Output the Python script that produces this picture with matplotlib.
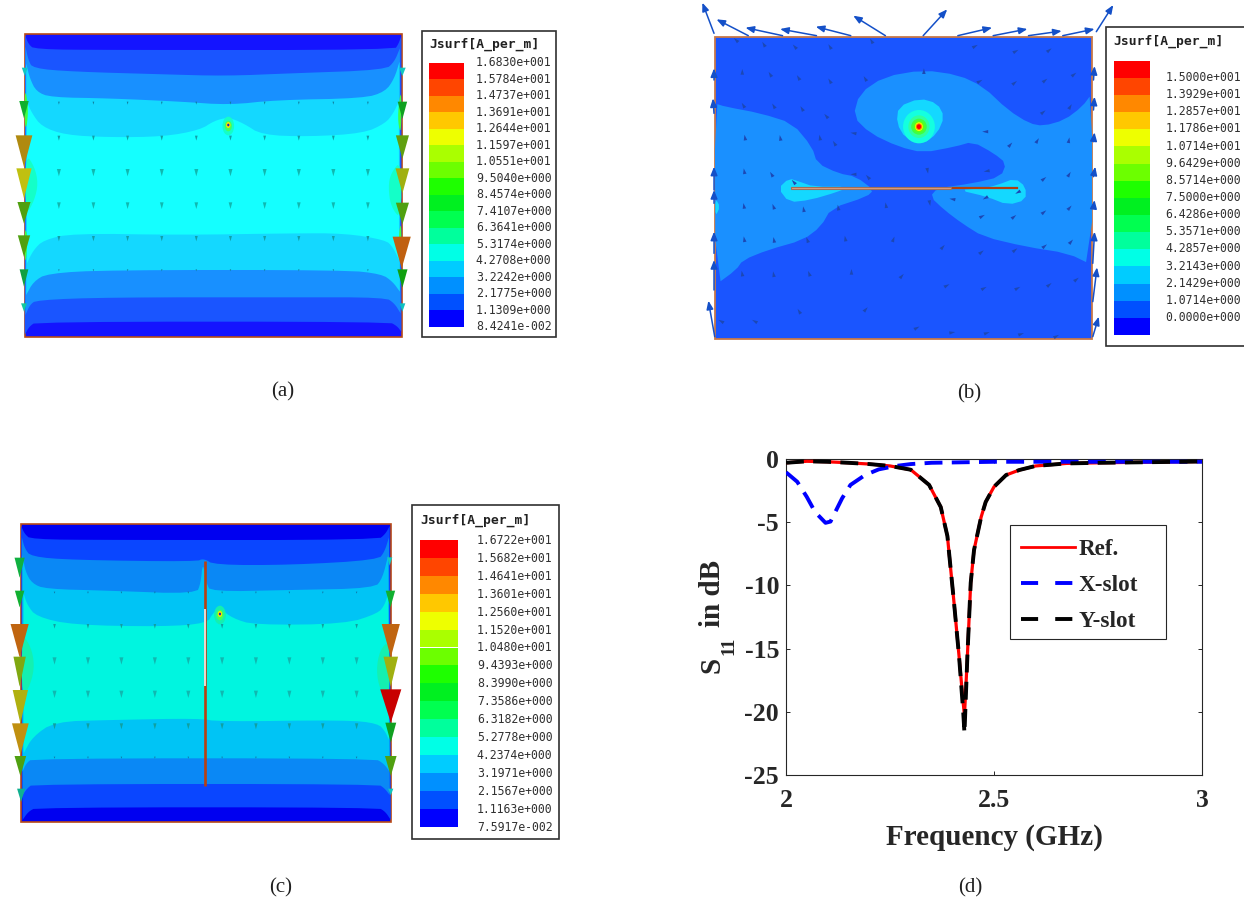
import matplotlib
matplotlib.use('Agg')
import matplotlib.pyplot as plt
from matplotlib.lines import Line2D
from matplotlib.patches import Ellipse, Polygon, Rectangle
import numpy as np

plt.rcParams['font.family'] = ['Liberation Serif', 'DejaVu Sans']

W, H = 1244, 905

# S11 curves, panel (d)
ref_freq = [2.0, 2.05, 2.1, 2.15, 2.2, 2.25, 2.3, 2.344, 2.372, 2.388, 2.404, 2.416, 2.426, 2.429,
            2.436, 2.444, 2.452, 2.469, 2.48, 2.5, 2.529, 2.561, 2.6, 2.674, 2.754, 3.0]
ref_s11 = [-0.3, -0.18, -0.22, -0.3, -0.4, -0.55, -0.85, -2.05, -3.8, -6.1, -11.4, -15.6, -19.3, -20.3,
           -15.6, -9.8, -7.2, -4.6, -3.4, -2.2, -1.27, -0.87, -0.55, -0.35, -0.3, -0.2]
y_s11 = [-0.3, -0.18, -0.22, -0.3, -0.4, -0.55, -0.85, -2.05, -3.8, -6.1, -11.4, -15.6, -20.0, -21.7,
         -15.6, -9.8, -7.2, -4.6, -3.4, -2.2, -1.27, -0.87, -0.55, -0.35, -0.3, -0.2]
x_freq = [2.0, 2.027, 2.05, 2.07, 2.095, 2.107, 2.135, 2.155, 2.19, 2.223, 2.264, 2.3, 2.35, 2.5, 3.0]
x_s11 = [-1.05, -1.8, -3.0, -4.2, -5.05, -4.95, -3.1, -2.05, -1.27, -0.82, -0.55, -0.4, -0.3, -0.22, -0.22]

# colour legend texts
labels_a = ['1.6830e+001', '1.5784e+001', '1.4737e+001', '1.3691e+001', '1.2644e+001', '1.1597e+001',
            '1.0551e+001', '9.5040e+000', '8.4574e+000', '7.4107e+000', '6.3641e+000', '5.3174e+000',
            '4.2708e+000', '3.2242e+000', '2.1775e+000', '1.1309e+000', '8.4241e-002']
labels_b = ['1.5000e+001', '1.3929e+001', '1.2857e+001', '1.1786e+001', '1.0714e+001', '9.6429e+000',
            '8.5714e+000', '7.5000e+000', '6.4286e+000', '5.3571e+000', '4.2857e+000', '3.2143e+000',
            '2.1429e+000', '1.0714e+000', '0.0000e+000']
labels_c = ['1.6722e+001', '1.5682e+001', '1.4641e+001', '1.3601e+001', '1.2560e+001', '1.1520e+001',
            '1.0480e+001', '9.4393e+000', '8.3990e+000', '7.3586e+000', '6.3182e+000', '5.2778e+000',
            '4.2374e+000', '3.1971e+000', '2.1567e+000', '1.1163e+000', '7.5917e-002']
ramp = ['#ff0000', '#ff4500', '#ff8800', '#ffc800', '#eeff00', '#aaff00', '#6cff00', '#1eff00',
        '#00f020', '#00ff50', '#00ff9c', '#00ffe6', '#00ccff', '#0090ff', '#0050ff', '#0000ff']

# panel (a) contour outlines: upper curve, then lower curve back
a_bands = [
    ('#1a55ff', [(69, 45), (78, 72), (95, 88), (300, 90), (1085, 90), (1096, 72), (1104, 48), (1104, 935), (1092, 918), (1070, 905), (100, 905), (80, 920), (68, 945)]),
    ('#1890ff', [(70, 80), (78, 120), (90, 145), (200, 155), (450, 163), (620, 168), (800, 160), (1060, 150), (1085, 125), (1100, 85),
                 (1102, 880), (1085, 850), (1060, 832), (800, 832), (300, 832), (100, 840), (82, 855), (70, 885)]),
    ('#14d8ff', [(72, 130), (82, 175), (100, 215), (140, 232), (300, 235), (500, 245), (630, 255), (760, 240), (1000, 235),
                 (1060, 215), (1085, 175), (1099, 125), (1100, 815), (1080, 785), (1050, 762), (950, 750), (300, 750), (130, 760), (92, 785), (72, 825)]),
    ('#14ffff', [(74, 245), (88, 280), (115, 320), (180, 345), (300, 352), (450, 350), (550, 330), (590, 302), (628, 292),
                 (670, 310), (720, 345), (850, 350), (1000, 340), (1060, 310), (1082, 280), (1097, 245), (1098, 720), (1080, 680), (1060, 660),
                 (950, 640), (800, 640), (500, 645), (200, 640), (120, 660), (92, 690), (74, 730)]),
]
a_glow = [
    ('#14ffc8', [(70, 400), (95, 440), (105, 490), (95, 540), (70, 590)]),
    ('#14ffc8', [(1104, 420), (1075, 460), (1068, 500), (1075, 560), (1104, 600)]),
    ('#40ff40', [(68, 200), (78, 260), (74, 320), (68, 320)]),
    ('#40ff40', [(1104, 200), (1094, 280), (1098, 330), (1104, 330)]),
    ('#40ff40', [(68, 620), (76, 650), (72, 720), (68, 720)]),
    ('#40ff40', [(1104, 600), (1096, 650), (1100, 720), (1104, 720)]),
]
a_left = [(68, 143, 25, 16, '#10c8c0'), (66, 243, 52, 26, '#10b030'), (66, 346, 95, 46, '#b08a10'),
          (66, 445, 90, 42, '#c0c010'), (66, 546, 65, 36, '#50a010'), (66, 646, 65, 34, '#50a010'),
          (66, 748, 52, 24, '#10a040'), (66, 850, 25, 16, '#10c8a0')]
a_right = [(1107, 143, 25, 18, '#10c8c0'), (1107, 245, 52, 26, '#10a020'), (1107, 346, 70, 36, '#60a010'),
           (1107, 445, 75, 38, '#a0b010'), (1107, 548, 65, 36, '#50a010'), (1105, 650, 95, 50, '#c06010'),
           (1107, 748, 55, 28, '#10a010'), (1107, 850, 25, 16, '#10c0c0')]
a_cols = [162, 257, 351, 445, 540, 634, 728, 822, 917, 1012]
a_rows = [(245, 9, '#1080a0'), (347, 15, '#10a0a8'), (447, 22, '#10b8b0'), (547, 20, '#10b8b0'),
          (648, 16, '#10a0a8'), (748, 6, '#1080a0')]

# panel (b) contour outlines
b_mid = [
    [(70, 310), (100, 320), (200, 340), (290, 370), (345, 440), (360, 490), (420, 520), (470, 530), (520, 570),
     (500, 590), (400, 625), (370, 680), (320, 720), (220, 750), (150, 780), (130, 810), (72, 855)],
    [(660, 210), (760, 225), (830, 260), (900, 330), (960, 370), (1000, 378), (1060, 360), (1110, 320), (1138, 280),
     (1138, 795), (1070, 760), (950, 740), (830, 710), (770, 670), (720, 630), (680, 590), (700, 565), (800, 550),
     (880, 530), (895, 490), (860, 460), (800, 425), (750, 440), (660, 458), (590, 440), (510, 400), (462, 350),
     (480, 280), (550, 230)],
]
b_light = [
    [(250, 565), (280, 535), (310, 545), (350, 560), (450, 560), (420, 575), (340, 600), (280, 607)],
    [(760, 570), (830, 565), (870, 555), (920, 535), (950, 560), (950, 600), (900, 615), (840, 590)],
    [(72, 595), (85, 620), (72, 650)],
    [(650, 295), (700, 310), (720, 350), (700, 400), (660, 432), (610, 415), (585, 370), (590, 320)],
]
b_rings = [(45, 50, '#14ffe0'), (30, 34, '#30ffa0'), (22, 24, '#40ff40'), (15, 17, '#60ff10'),
           (11, 13, '#ffff00'), (9, 10, '#ff8000'), (6, 7, '#ff0000')]
b_long = [(68, 100, 35, 8), (165, 107, 75, 58), (262, 107, 157, 83), (358, 107, 255, 87), (455, 107, 356, 80),
          (553, 107, 462, 47), (660, 107, 728, 28), (758, 107, 855, 83), (858, 107, 955, 87), (958, 107, 1052, 93),
          (1055, 107, 1145, 87), (1150, 95, 1198, 15), (70, 1010, 52, 902), (1140, 1010, 1157, 950),
          (1140, 905, 1152, 802), (1140, 790, 1145, 695), (68, 870, 68, 780), (68, 760, 68, 695), (68, 610, 68, 570),
          (68, 570, 68, 500), (68, 340, 65, 295), (68, 240, 68, 205), (1142, 240, 1145, 198), (1142, 330, 1145, 290),
          (1142, 425, 1145, 397), (1142, 530, 1147, 500), (1142, 625, 1145, 600)]
b_small = [(132, 122, 135), (210, 135, 120), (298, 142, 130), (397, 142, 120), (515, 125, 120), (805, 140, 30),
           (920, 155, 30), (1015, 152, 40), (148, 218, 90), (228, 225, 120), (308, 235, 120), (397, 245, 120),
           (497, 238, 120), (662, 216, 90), (818, 245, 30), (917, 250, 40), (1003, 243, 40), (1085, 225, 40),
           (152, 318, 120), (238, 320, 120), (318, 328, 120), (387, 350, 130), (998, 338, 40), (1075, 322, 60),
           (156, 415, 100), (256, 416, 100), (368, 415, 100), (410, 432, 120), (465, 400, 170), (838, 395, 180),
           (905, 436, 50), (982, 424, 60), (1072, 423, 80), (154, 516, 100), (232, 525, 120), (295, 548, 130),
           (465, 523, 180), (505, 533, 130), (672, 510, -80), (842, 513, 190), (1000, 538, 40), (1072, 525, 60),
           (153, 620, 100), (237, 622, 110), (322, 630, 100), (420, 625, 100), (555, 618, 100), (678, 607, -80),
           (745, 598, 170), (838, 593, 210), (930, 576, 210), (1000, 638, 40), (1073, 625, 50), (154, 720, 100),
           (238, 722, 100), (333, 722, 110), (440, 718, 100), (575, 720, 70), (714, 743, 50), (823, 758, 40),
           (918, 752, 40), (1002, 740, 40), (1077, 727, 50), (825, 650, 30), (915, 652, 40), (148, 823, 100),
           (237, 825, 100), (338, 823, 110), (457, 818, 90), (598, 830, 50), (725, 858, 30), (830, 866, 30),
           (925, 866, 30), (1015, 856, 40), (1092, 840, 40), (90, 965, 150), (185, 965, 150), (310, 936, 120),
           (496, 930, 50), (640, 985, 30), (740, 998, 10), (838, 1000, 20), (935, 1003, 20), (1035, 1010, 30)]

# panel (c) contour outlines
c_bands = [
    ('#0a46ff', [(58, 78), (68, 102), (85, 118), (300, 120), (1040, 120), (1060, 102), (1072, 78), (1075, 960), (1060, 935), (1040, 922), (100, 922), (78, 935), (62, 960)]),
    ('#0a88f5', [(60, 112), (68, 145), (85, 170), (200, 180), (540, 185), (560, 175), (590, 195), (800, 195), (1040, 180), (1058, 155), (1070, 112),
                 (1072, 885), (1058, 865), (1040, 852), (90, 852), (75, 865), (62, 885)]),
    ('#00c4f5', [(62, 165), (70, 215), (88, 250), (125, 267), (300, 272), (540, 282), (552, 250), (558, 185), (568, 250), (580, 275), (800, 270), (1030, 265),
                 (1052, 235), (1068, 165), (1072, 815), (1055, 790), (1030, 775), (90, 775), (72, 790), (62, 815)]),
    ('#00f5e0', [(65, 280), (75, 315), (100, 350), (200, 375), (450, 380), (570, 370), (585, 340), (605, 325), (640, 355), (700, 375),
                 (950, 372), (1040, 340), (1058, 315), (1068, 280), (1070, 720), (1060, 695), (1040, 670), (950, 660), (600, 665), (550, 655),
                 (300, 660), (150, 665), (90, 710), (65, 760)]),
]
c_glow = [
    ('#14f0b0', [(60, 400), (85, 440), (95, 495), (85, 550), (60, 600)]),
    ('#14f0b0', [(1072, 420), (1045, 450), (1035, 510), (1045, 570), (1072, 600)]),
]
c_left = [(54, 173, 60, 28, '#10b040'), (54, 272, 50, 26, '#10b030'), (54, 372, 100, 50, '#c06510'),
          (54, 470, 90, 34, '#80a810'), (56, 570, 100, 42, '#b0b010'), (56, 670, 95, 46, '#c09010'),
          (56, 768, 60, 32, '#50a010'), (58, 866, 40, 22, '#10b090')]
c_right = [(1072, 172, 25, 14, '#10c8c0'), (1074, 272, 50, 26, '#10b030'), (1075, 372, 100, 50, '#c06510'),
           (1075, 470, 90, 40, '#a0b010'), (1075, 568, 100, 58, '#c80000'), (1075, 668, 60, 30, '#10a020'),
           (1075, 768, 60, 32, '#50a010'), (1075, 866, 20, 14, '#10c8c0')]
c_cols = [150, 242, 334, 426, 518, 611, 704, 796, 888, 981]
c_rows = [(275, 6, '#1070a0'), (372, 14, '#10a0a0'), (472, 22, '#10b8b0'), (572, 22, '#10b8b0'),
          (670, 18, '#10a0a0'), (770, 6, '#1070a0')]


def crop_axes(fig, x, y, w, h):
    # axes over one zoom crop, data units = crop coords
    ax = fig.add_axes([x / W, 1 - (y + h) / H, w / W, h / H])
    ax.set_xlim(0, 1568)
    ax.set_ylim(1020 if h == 340 else 1050, 0)
    ax.axis('off')
    ax.patch.set_alpha(0)
    return ax


def rounded(pts, n=2):
    # corner cutting so the contour outlines are not angular
    p = np.array(pts, dtype=float)
    for _ in range(n):
        q = np.roll(p, -1, axis=0)
        p = np.column_stack([0.75 * p + 0.25 * q, 0.25 * p + 0.75 * q]).reshape(-1, 2)
    return p


def rounded_open(pts, n=2):
    p = np.array(pts, dtype=float)
    for _ in range(n):
        a, b = p[:-1], p[1:]
        mid = np.column_stack([0.75 * a + 0.25 * b, 0.25 * a + 0.75 * b]).reshape(-1, 2)
        p = np.vstack([p[0], mid, p[-1]])
    return p


def band_outline(pts):
    # split at the long side run, round only upper and lower curve so the ends stay at the edges
    p = np.array(pts, dtype=float)
    k = np.argmax(np.abs(np.diff(p[:, 1]))) + 1
    return np.vstack([rounded_open(p[:k]), rounded_open(p[k:])])


def cone(ax, x, top, length, width, color, z=6):
    ax.add_patch(Polygon([(x - width / 2, top), (x + width / 2, top), (x, top + length)],
                         closed=True, fc=color, ec='none', zorder=z))


def dart(ax, x, y, ang, color):
    # little field arrow, ang in degrees from +x, y axis points down
    a = np.deg2rad(ang)
    d = np.array([np.cos(a), -np.sin(a)])
    n = np.array([-d[1], d[0]])
    c = np.array([x, y])
    ax.add_patch(Polygon([c + 11 * d, c - 6 * d + 5 * n, c - 6 * d - 5 * n], closed=True, fc=color, ec='none', zorder=5))


def color_legend(ax, box, sx0, sx1, sy0, sy1, labels, ly0, ly1, lx, tx, ty):
    ax.add_patch(Rectangle((box[0], box[1]), box[2] - box[0], box[3] - box[1],
                           fc='white', ec='#303030', lw=1.2, zorder=1, clip_on=False))
    edges = np.linspace(sy0, sy1, len(ramp) + 1)
    for i, c in enumerate(ramp):
        ax.add_patch(Rectangle((sx0, edges[i]), sx1 - sx0, edges[i + 1] - edges[i], fc=c, ec='none', zorder=2))
    for lab, yy in zip(labels, np.linspace(ly0, ly1, len(labels))):
        ax.text(lx, yy, lab, ha='right', va='center', family='DejaVu Sans Mono', fontsize=8.3, color='#303030')
    ax.text(tx, ty, 'Jsurf[A_per_m]', ha='left', va='center', family='DejaVu Sans Mono',
            weight='bold', fontsize=9.4, color='#202020')


def field_map(ax, rect, base, bands, glow, left, right, cols, rows):
    x0, y0, x1, y1 = rect
    ax.add_patch(Rectangle((x0, y0), x1 - x0, y1 - y0, fc=base, ec='#b84a18', lw=1.2, zorder=1))
    for color, pts in bands:
        ax.add_patch(Polygon(band_outline(pts), closed=True, fc=color, ec='none', zorder=2))
    for color, pts in glow:
        ax.add_patch(Polygon(rounded(pts), closed=True, fc=color, ec='none', zorder=3))
    for yy, length, color in rows:
        for xx in cols:
            cone(ax, xx, yy, length, max(length * 0.5, 4), color, z=5)
    for item in left + right:
        cone(ax, *item)


fig = plt.figure(figsize=(W / 100, H / 100), dpi=100)

# (a)
ax = crop_axes(fig, 0, 20, 570, 340)
field_map(ax, (68, 42, 1105, 950), '#1414ff', a_bands, a_glow, a_left, a_right, a_cols, a_rows)
for rx, ry, c in [(16, 28, '#14ffc8'), (10, 16, '#40ff60'), (6, 9, '#ffe000'), (3, 4, '#2020c0')]:
    ax.add_patch(Ellipse((628, 318 if rx > 6 else 315), 2 * rx, 2 * ry, fc=c, ec='none', zorder=4))
color_legend(ax, (1160, 32, 1530, 952), 1181, 1277, 129, 920, labels_a, 129, 920, 1517, 1182, 73)

# (b)
ax = crop_axes(fig, 690, 0, 554, 350)
ax.add_patch(Rectangle((70, 110), 1068, 906, fc='#1a55ff', ec='#c87848', lw=1.3, zorder=1))
for pts in b_mid:
    ax.add_patch(Polygon(rounded(pts, 1), closed=True, fc='#1a90ff', ec='none', zorder=2))
for pts in b_light:
    ax.add_patch(Polygon(rounded(pts, 1), closed=True, fc='#14d8ff', ec='none', zorder=3))
for rx, ry, c in b_rings:
    ax.add_patch(Ellipse((648, 380), 2 * rx, 2 * ry, fc=c, ec='none', zorder=4))
ax.plot([740, 925], [565, 565], color='#b04010', lw=1.6, zorder=5)
ax.add_patch(Rectangle((286, 560), 454, 8, fc='#e0a080', ec='#a0705a', lw=0.8, zorder=5))
for xa, ya, xb, yb in b_long:
    ax.annotate('', xy=(xb, yb), xytext=(xa, ya), zorder=6, annotation_clip=False,
                arrowprops=dict(arrowstyle='-|>,head_width=0.2,head_length=0.5', color='#1450c8', lw=1.1,
                                shrinkA=0, shrinkB=0))
for xs, ys, ang in b_small:
    dart(ax, xs, ys, ang, '#1c48b4')
color_legend(ax, (1177, 80, 1600, 1038), 1200, 1302, 182, 1005, labels_b, 232, 953, 1560, 1198, 124)

# (c)
ax = crop_axes(fig, 0, 500, 570, 340)
field_map(ax, (57, 72, 1075, 967), '#0000f0', c_bands, c_glow, c_left, c_right, c_cols, c_rows)
for rx, ry, c in [(16, 28, '#14f0b0'), (10, 16, '#40ff60'), (6, 9, '#ffe000'), (3, 4, '#2020c0')]:
    ax.add_patch(Ellipse((605, 345 if rx > 6 else 342), 2 * rx, 2 * ry, fc=c, ec='none', zorder=4))
ax.plot([565, 565], [183, 857], color='#b84010', lw=1.9, zorder=5, solid_capstyle='butt')
ax.plot([564, 564], [327, 557], color='white', lw=1.1, zorder=6, solid_capstyle='butt')
color_legend(ax, (1133, 14, 1537, 1016), 1156, 1260, 120, 980, labels_c, 121, 982, 1520, 1157, 60)

# captions and y label, figure pixels
cap = fig.add_axes([0, 0, 1, 1])
cap.set_xlim(0, W)
cap.set_ylim(H, 0)
cap.axis('off')
cap.patch.set_alpha(0)
for txt, xx, yy in [('(a)', 283, 392), ('(b)', 969, 394), ('(c)', 281, 888), ('(d)', 970, 888)]:
    cap.text(xx, yy, txt, ha='center', va='center', fontsize=15, color='#202020')
for txt, xx, yy, fs in [('S', 712, 665, 21), ('11', 729, 646, 14), ('in dB', 712, 593, 21)]:
    cap.text(xx, yy, txt, rotation=90, ha='center', va='center', fontsize=fs, fontweight='bold', color='#262626')

# (d)
ax = fig.add_axes([786 / W, 1 - 775 / H, 416 / W, 316 / H])
ax.plot(ref_freq, ref_s11, color='#ff0000', lw=2.3, zorder=3)
ax.plot(x_freq, x_s11, color='#0000ff', lw=2.8, dashes=(4.6, 2.4), zorder=4)
ax.plot(ref_freq, y_s11, color='black', lw=2.8, dashes=(4.6, 2.4), zorder=5)
ax.set_xlim(2, 3)
ax.set_ylim(-25, 0)
ax.set_xticks([2, 2.5, 3])
ax.set_xticklabels(['2', '2.5', '3'])
ax.set_yticks([0, -5, -10, -15, -20, -25])
ax.set_yticklabels(['0', '-5', '-10', '-15', '-20', '-25'])
ax.tick_params(direction='in', length=3, width=0.7, top=True, right=True, colors='#262626', pad=5)
ax.tick_params(axis='x', pad=10)
for lab in ax.get_xticklabels() + ax.get_yticklabels():
    lab.set_fontsize(18.5)
    lab.set_fontweight('bold')
for s in ax.spines.values():
    s.set_linewidth(0.8)
    s.set_color('#262626')
ax.set_xlabel('Frequency (GHz)', fontsize=21, fontweight='bold', color='#262626', labelpad=9)

ax.add_patch(Rectangle((1010, 525), 156, 114, transform=cap.transData, fc='white', ec='#262626', lw=0.8,
                       zorder=6, clip_on=False))
handles = [Line2D([], [], color='#ff0000', lw=2.0),
           Line2D([], [], color='#0000ff', lw=2.8, dashes=(4.4, 4.4)),
           Line2D([], [], color='black', lw=2.8, dashes=(4.4, 4.4))]
leg = ax.legend(handles, ['Ref.', 'X-slot', 'Y-slot'], loc='upper left', bbox_to_anchor=(0.538, 0.783),
                fontsize=16.7, frameon=False, handlelength=2.3, handletextpad=0.15, labelspacing=0.62,
                borderpad=0.5, borderaxespad=0)
leg.set_zorder(7)
for t in leg.get_texts():
    t.set_fontweight('bold')
    t.set_color('#262626')

fig.savefig('out.png', dpi=100)
